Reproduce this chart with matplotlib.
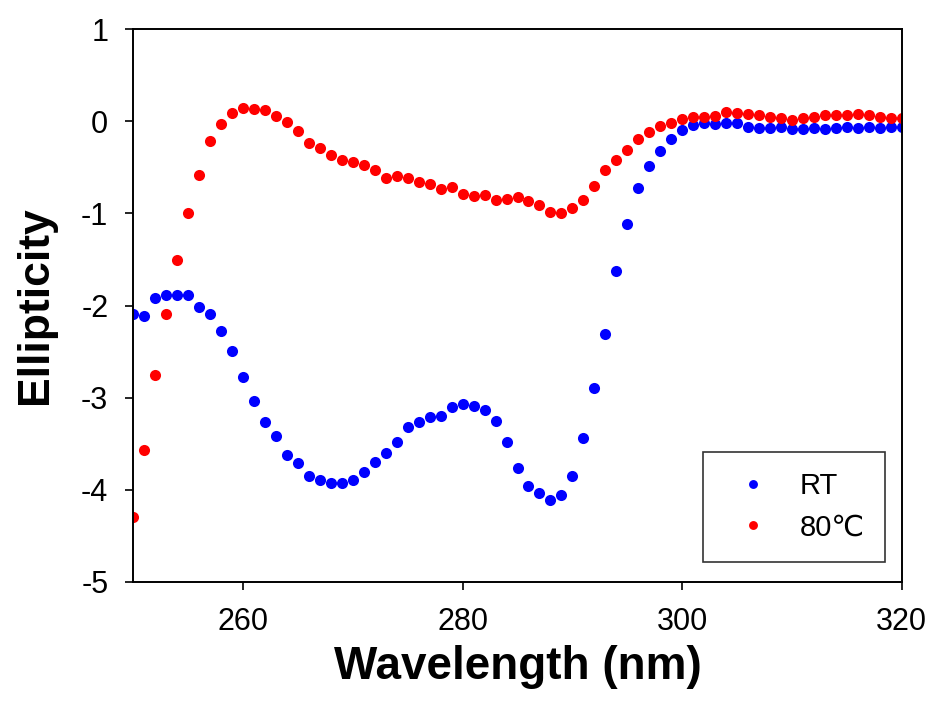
import matplotlib
matplotlib.use("Agg")
import matplotlib.pyplot as plt

# fonts: Arial look-alike, DejaVu as fallback for the degree sign
plt.rcParams['font.family'] = ['Liberation Sans', 'DejaVu Sans']
plt.rcParams['axes.unicode_minus'] = False

# wavelength in nm, one point per nm
wavelength = list(range(250, 321))

# ellipticity at room temperature
rt = [-2.09, -2.11, -1.92, -1.89, -1.89, -1.89, -2.02, -2.09, -2.28, -2.49,
      -2.78, -3.04, -3.26, -3.42, -3.62, -3.71, -3.85, -3.90, -3.93, -3.93,
      -3.89, -3.81, -3.70, -3.60, -3.48, -3.32, -3.26, -3.21, -3.20, -3.10,
      -3.07, -3.09, -3.13, -3.25, -3.48, -3.76, -3.96, -4.04, -4.11, -4.06,
      -3.85, -3.44, -2.90, -2.31, -1.63, -1.11, -0.72, -0.48, -0.32, -0.19,
      -0.09, -0.04, -0.02, -0.03, -0.02, -0.02, -0.06, -0.07, -0.07, -0.06,
      -0.08, -0.08, -0.07, -0.08, -0.07, -0.06, -0.07, -0.06, -0.07, -0.06,
      -0.06]

# ellipticity at 80 C
hot = [-4.30, -3.57, -2.76, -2.09, -1.51, -1.00, -0.58, -0.21, -0.03, 0.09,
       0.15, 0.13, 0.12, 0.06, -0.01, -0.10, -0.23, -0.29, -0.36, -0.42,
       -0.44, -0.47, -0.53, -0.61, -0.59, -0.61, -0.66, -0.68, -0.73, -0.71,
       -0.79, -0.81, -0.80, -0.85, -0.84, -0.82, -0.87, -0.91, -0.98, -1.00,
       -0.94, -0.85, -0.70, -0.53, -0.42, -0.31, -0.19, -0.12, -0.05, -0.02,
       0.03, 0.05, 0.05, 0.06, 0.10, 0.09, 0.08, 0.07, 0.05, 0.04,
       0.01, 0.04, 0.05, 0.07, 0.07, 0.07, 0.08, 0.07, 0.05, 0.04,
       0.04]

x_ticks = [260, 280, 300, 320]
y_ticks = [1, 0, -1, -2, -3, -4, -5]

fig = plt.figure(figsize=(9.35, 7.12), dpi=100)
ax = fig.add_axes([0.1426, 0.1830, 0.8218, 0.7758])

ax.plot(wavelength, rt, 'o', color='#0000ff', markersize=8, markeredgewidth=0, label='RT')
ax.plot(wavelength, hot, 'o', color='#ff0000', markersize=8, markeredgewidth=0, label='80\u2103')

ax.set_xlim(250, 320)
ax.set_ylim(-5, 1)
ax.set_xticks(x_ticks)
ax.set_yticks(y_ticks)
ax.tick_params(direction='out', length=6, width=1.2, labelsize=22, pad=12,
               top=False, right=False)
for side in ax.spines:
    ax.spines[side].set_linewidth(1.4)

ax.set_xlabel('Wavelength (nm)', fontsize=33, fontweight='bold', labelpad=6)
ax.set_ylabel('Ellipticity', fontsize=32, fontweight='bold', labelpad=18)

leg = ax.legend(loc='lower right', bbox_to_anchor=(0.978, 0.036), borderaxespad=0,
                fontsize=21, markerscale=0.8, frameon=True, fancybox=False,
                edgecolor='black', borderpad=0.7, handlelength=2.0,
                handletextpad=0.6, labelspacing=0.45)
leg.get_frame().set_linewidth(1.2)

fig.savefig('out.png', dpi=100)
